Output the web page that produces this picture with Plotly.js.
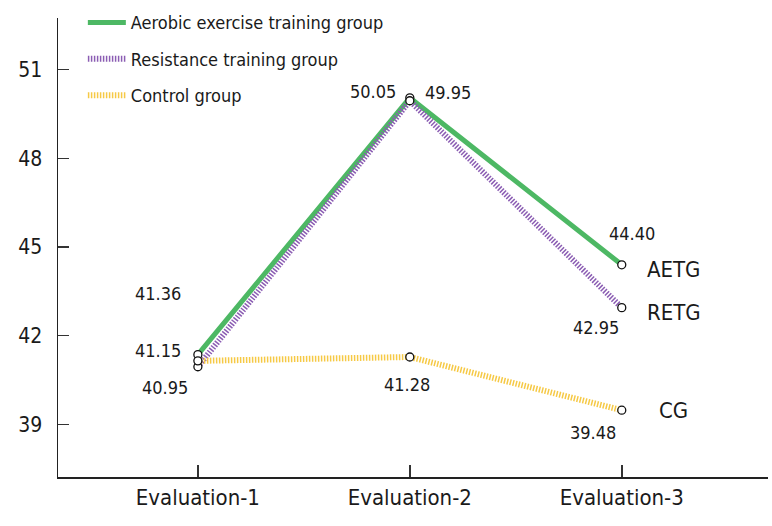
<!DOCTYPE html>
<html>
<head>
<meta charset="utf-8">
<script src="https://cdn.plot.ly/plotly-3.0.1.min.js"></script>
<style>html,body{margin:0;padding:0;background:#fff;}#chart{width:772px;height:526px;}</style>
</head>
<body>
<div id="chart"></div>
<script>
const categories = ["Evaluation-1", "Evaluation-2", "Evaluation-3"];
const seriesNames = ["Aerobic exercise training group", "Resistance training group", "Control group"];
const shortNames = ["AETG", "RETG", "CG"];
const aetg = [41.36, 50.05, 44.40];
const retg = [40.95, 49.95, 42.95];
const cg = [41.15, 41.28, 39.48];
const yTicks = [39, 42, 45, 48, 51];

const FONT = "'DejaVu Sans Condensed', 'Liberation Sans Narrow', Roboto, sans-serif";
const colors = ["#4db864", "#8b5db3", "#f6c945"];
const series = [aetg, retg, cg];
const dashes = ["solid", "1.5px,1.5px", "1.5px,1.5px"];
const widths = [5, 6, 6];

const traces = [];
series.forEach((s, i) => {
  traces.push({
    x: categories, y: s, type: "scatter", mode: "lines",
    name: seriesNames[i], legendgroup: "g" + i,
    line: {color: colors[i], width: widths[i], dash: dashes[i]},
    hoverinfo: "skip"
  });
});
series.forEach((s, i) => {
  traces.push({
    x: categories, y: s, type: "scatter", mode: "markers",
    showlegend: false, hoverinfo: "skip",
    marker: {symbol: "circle", size: 8, color: "#fff", line: {color: "#111", width: 1.3}}
  });
});

// label offsets (px) for each value label: [xshift, yshift]
const labelShifts = [
  [[-40, 61], [-37, 6], [10, 31]],
  [[-33, -21], [38, 8], [-26, -20]],
  [[-40, 10], [-3, -27], [-29, -22]]
];
const annotations = [];
series.forEach((s, i) => {
  s.forEach((v, j) => {
    annotations.push({
      x: categories[j], y: v, text: v.toFixed(2), showarrow: false,
      xshift: labelShifts[i][j][0], yshift: labelShifts[i][j][1],
      font: {family: FONT, size: 18, color: "#1a1a1a"}
    });
  });
  annotations.push({
    x: categories[2], y: s[2], text: shortNames[i], showarrow: false,
    xshift: 52, yshift: i === 2 ? 0 : -5,
    font: {family: FONT, size: 22, color: "#1a1a1a"}
  });
});

const layout = {
  width: 772, height: 526,
  margin: {l: 58, r: 4, t: 15, b: 49},
  paper_bgcolor: "#fff", plot_bgcolor: "#fff",
  font: {family: FONT, size: 19, color: "#1a1a1a"},
  showlegend: true,
  legend: {
    x: 0.035, y: 1.03, xanchor: "left", yanchor: "top",
    font: {family: FONT, size: 18, color: "#1a1a1a"},
    bgcolor: "rgba(0,0,0,0)", tracegroupgap: 10, itemwidth: 38
  },
  xaxis: {
    type: "category", range: [-0.66, 2.69],
    showline: true, linecolor: "#222", linewidth: 1.5,
    ticks: "inside", ticklen: 12, tickcolor: "#333", tickwidth: 1.5,
    showgrid: false, zeroline: false,
    tickfont: {family: FONT, size: 22, color: "#1a1a1a"}
  },
  yaxis: {
    range: [37.22, 52.75], tickvals: yTicks, ticktext: yTicks.map(String),
    showline: true, linecolor: "#222", linewidth: 1.5,
    ticks: "inside", ticklen: 11, tickcolor: "#333", tickwidth: 1.5,
    showgrid: false, zeroline: false, ticklabelstandoff: 10,
    tickfont: {family: FONT, size: 21, color: "#1a1a1a"}
  },
  annotations: annotations
};

Plotly.newPlot("chart", traces, layout, {displayModeBar: false, staticPlot: true});
</script>
</body>
</html>
